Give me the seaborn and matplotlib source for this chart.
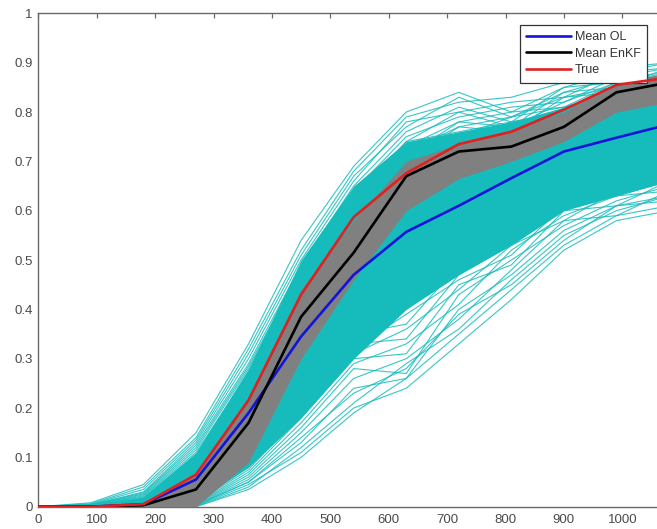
import matplotlib
matplotlib.use("Agg")
import matplotlib.pyplot as plt
import numpy as np
import pandas as pd
import seaborn as sns

# ---------------- data ----------------
t = [0, 90, 180, 270, 360, 450, 540, 630, 720, 810, 900, 990, 1080]

mean_ol = [0, 0, 0.005, 0.055, 0.19, 0.345, 0.47, 0.557, 0.61, 0.666, 0.72, 0.748, 0.775]
mean_enkf = [0, 0, 0.003, 0.035, 0.17, 0.385, 0.515, 0.67, 0.72, 0.73, 0.77, 0.84, 0.86]
true_state = [0, 0, 0.005, 0.065, 0.216, 0.43, 0.587, 0.676, 0.735, 0.76, 0.805, 0.855, 0.87]

# dense core of the open-loop ensemble
ol_core_lo = [0, 0, 0, 0.01, 0.08, 0.18, 0.30, 0.40, 0.47, 0.53, 0.60, 0.63, 0.66]
ol_core_hi = [0, 0.002, 0.02, 0.11, 0.28, 0.50, 0.65, 0.74, 0.76, 0.78, 0.81, 0.85, 0.87]

# open-loop members above the core
ol_upper = [
    [0, 0.008, 0.045, 0.150, 0.330, 0.540, 0.690, 0.800, 0.840, 0.800, 0.850, 0.880, 0.900],
    [0, 0.006, 0.040, 0.140, 0.320, 0.520, 0.680, 0.790, 0.820, 0.830, 0.860, 0.890, 0.900],
    [0, 0.005, 0.035, 0.135, 0.310, 0.510, 0.670, 0.770, 0.830, 0.790, 0.840, 0.870, 0.890],
    [0, 0.004, 0.030, 0.130, 0.300, 0.500, 0.660, 0.780, 0.800, 0.820, 0.830, 0.880, 0.890],
    [0, 0.004, 0.028, 0.125, 0.290, 0.490, 0.650, 0.760, 0.810, 0.780, 0.850, 0.860, 0.880],
    [0, 0.003, 0.026, 0.120, 0.285, 0.480, 0.640, 0.750, 0.790, 0.810, 0.820, 0.870, 0.880],
    [0, 0.003, 0.024, 0.115, 0.280, 0.475, 0.630, 0.740, 0.800, 0.770, 0.840, 0.850, 0.890],
    [0, 0.002, 0.022, 0.110, 0.270, 0.470, 0.630, 0.730, 0.780, 0.800, 0.810, 0.860, 0.870],
    [0, 0.002, 0.020, 0.105, 0.265, 0.460, 0.620, 0.720, 0.770, 0.790, 0.830, 0.840, 0.880],
    [0, 0.002, 0.018, 0.100, 0.260, 0.455, 0.610, 0.740, 0.760, 0.780, 0.800, 0.850, 0.860],
    [0, 0.001, 0.016, 0.095, 0.255, 0.450, 0.615, 0.710, 0.780, 0.770, 0.820, 0.860, 0.870],
    [0, 0.001, 0.015, 0.090, 0.250, 0.440, 0.600, 0.730, 0.750, 0.790, 0.810, 0.840, 0.870],
    [0, 0.001, 0.014, 0.088, 0.245, 0.435, 0.605, 0.700, 0.770, 0.760, 0.830, 0.850, 0.860],
    [0, 0.001, 0.012, 0.085, 0.240, 0.430, 0.590, 0.720, 0.740, 0.780, 0.800, 0.830, 0.880],
]

# open-loop members below the core
ol_lower = [
    [0, 0, 0, 0.000, 0.035, 0.100, 0.190, 0.260, 0.350, 0.440, 0.530, 0.590, 0.610],
    [0, 0, 0, 0.000, 0.040, 0.120, 0.210, 0.290, 0.360, 0.460, 0.550, 0.600, 0.630],
    [0, 0, 0, 0.002, 0.050, 0.130, 0.240, 0.260, 0.400, 0.470, 0.560, 0.610, 0.620],
    [0, 0, 0, 0.003, 0.055, 0.150, 0.260, 0.300, 0.380, 0.480, 0.580, 0.590, 0.640],
    [0, 0, 0, 0.004, 0.060, 0.160, 0.280, 0.270, 0.430, 0.500, 0.570, 0.620, 0.650],
    [0, 0, 0, 0.005, 0.065, 0.170, 0.290, 0.330, 0.410, 0.520, 0.590, 0.630, 0.640],
    [0, 0, 0, 0.006, 0.070, 0.180, 0.300, 0.310, 0.450, 0.490, 0.600, 0.610, 0.660],
    [0, 0, 0.001, 0.008, 0.075, 0.190, 0.310, 0.360, 0.440, 0.530, 0.580, 0.640, 0.670],
    [0, 0, 0.001, 0.010, 0.080, 0.200, 0.330, 0.340, 0.470, 0.550, 0.620, 0.630, 0.660],
    [0, 0, 0.002, 0.012, 0.085, 0.210, 0.320, 0.390, 0.460, 0.510, 0.610, 0.650, 0.680],
    [0, 0, 0.002, 0.015, 0.090, 0.220, 0.350, 0.370, 0.490, 0.560, 0.630, 0.640, 0.690],
    [0, 0, 0.003, 0.018, 0.100, 0.230, 0.340, 0.410, 0.480, 0.580, 0.620, 0.660, 0.680],
    [0, 0, 0.003, 0.020, 0.110, 0.240, 0.360, 0.430, 0.500, 0.540, 0.640, 0.670, 0.700],
    [0, 0, 0.004, 0.025, 0.120, 0.250, 0.380, 0.400, 0.510, 0.590, 0.650, 0.660, 0.690],
    [0, 0, 0.004, 0.030, 0.130, 0.260, 0.370, 0.450, 0.530, 0.570, 0.630, 0.680, 0.710],
    [0, 0, 0.005, 0.035, 0.140, 0.270, 0.400, 0.440, 0.520, 0.600, 0.660, 0.690, 0.700],
    [0, 0, 0.005, 0.040, 0.150, 0.280, 0.390, 0.470, 0.550, 0.580, 0.670, 0.680, 0.720],
    [0, 0, 0.006, 0.045, 0.160, 0.290, 0.420, 0.460, 0.540, 0.620, 0.650, 0.700, 0.710],
    [0, 0, 0, 0.001, 0.045, 0.110, 0.200, 0.240, 0.330, 0.420, 0.520, 0.580, 0.600],
    [0, 0, 0, 0.003, 0.050, 0.140, 0.230, 0.280, 0.390, 0.450, 0.540, 0.610, 0.630],
]

# spread of the EnKF ensemble
enkf_lo = [0, 0, 0, 0.000, 0.090, 0.300, 0.460, 0.600, 0.665, 0.700, 0.740, 0.800, 0.820]
enkf_hi = [0, 0, 0.008, 0.070, 0.220, 0.440, 0.580, 0.700, 0.735, 0.765, 0.800, 0.860, 0.880]

x_ticks = [0, 100, 200, 300, 400, 500, 600, 700, 800, 900, 1000]
y_ticks = [0, 0.1, 0.2, 0.3, 0.4, 0.5, 0.6, 0.7, 0.8, 0.9, 1.0]
y_tick_labels = ["0", "0.1", "0.2", "0.3", "0.4", "0.5", "0.6", "0.7", "0.8", "0.9", "1"]

# ---------------- styling ----------------
sns.set_theme(style="white")
plt.rcParams["font.family"] = ["Liberation Sans", "DejaVu Sans"]

CYAN = "#16BCBC"
GRAY = "#808080"
BLUE = "#1414D8"
RED = "#DD2222"
AXIS = "#6a6a6a"
TEXT = "#4a4a4a"

W, H = 657, 529
fig = plt.figure(figsize=(W / 100, H / 100), dpi=100)
px_per_unit = 0.584
ax = fig.add_axes([38.3 / W, 22.3 / H, 1100 * px_per_unit / W, 493.3 / H])

# open-loop ensemble
ax.fill_between(t, ol_core_lo, ol_core_hi, color=CYAN, lw=0, zorder=1)
rows = []
for k, member in enumerate(ol_upper + ol_lower):
    for ti, v in zip(t, member):
        rows.append({"member": k, "t": ti, "v": v})
df_ol = pd.DataFrame(rows)
sns.lineplot(data=df_ol, x="t", y="v", units="member", estimator=None,
             color=CYAN, lw=0.8, alpha=0.85, legend=False, ax=ax, zorder=2)

# EnKF ensemble spread
ax.fill_between(t, enkf_lo, enkf_hi, color=GRAY, lw=0, zorder=3)

# ensemble means and truth
sns.lineplot(x=t, y=mean_ol, color=BLUE, lw=1.9, ax=ax, label="Mean OL", zorder=4)
sns.lineplot(x=t, y=mean_enkf, color="black", lw=1.9, ax=ax, label="Mean EnKF", zorder=5)
sns.lineplot(x=t, y=true_state, color=RED, lw=1.9, ax=ax, label="True", zorder=6)

ax.set_xlim(0, 1100)
ax.set_ylim(0, 1)
ax.set_xticks(x_ticks)
ax.set_xticklabels([str(v) for v in x_ticks])
ax.set_yticks(y_ticks)
ax.set_yticklabels(y_tick_labels)
ax.set_xlabel("")
ax.set_ylabel("")

for side in ["left", "bottom", "top", "right"]:
    ax.spines[side].set_visible(True)
    ax.spines[side].set_color(AXIS)
    ax.spines[side].set_linewidth(1.0)

ax.tick_params(axis="both", direction="in", length=3.6, width=0.9, color=AXIS,
               labelsize=9.5, labelcolor=TEXT, top=True, right=True)
ax.tick_params(axis="x", pad=5.5)
ax.tick_params(axis="y", pad=4.0)

handles, labels = ax.get_legend_handles_labels()
leg = ax.legend(handles, labels, loc="upper right",
                bbox_to_anchor=(647 / W, 1 - 25 / H), bbox_transform=fig.transFigure,
                frameon=True, fancybox=False, framealpha=1, edgecolor="#333333",
                fontsize=9, handlelength=3.6, handletextpad=0.3, labelspacing=0.36,
                borderpad=0.5, borderaxespad=0)
leg.get_frame().set_linewidth(0.9)
for txt in leg.get_texts():
    txt.set_color("#333333")

fig.savefig("out.png", dpi=100)
